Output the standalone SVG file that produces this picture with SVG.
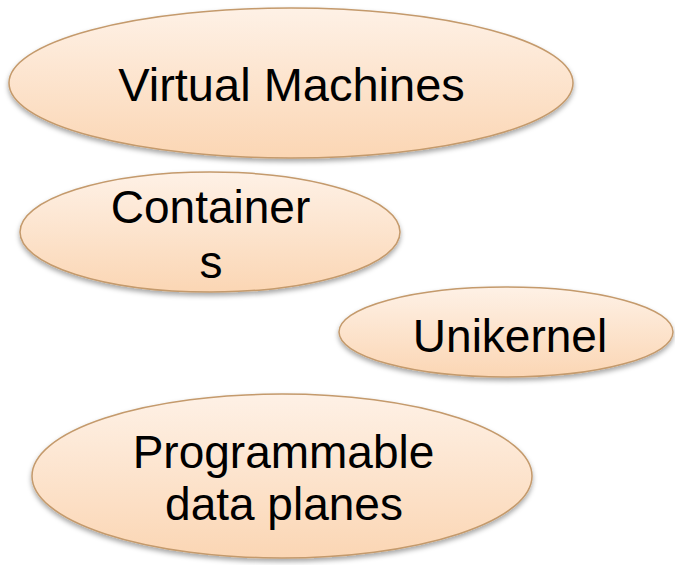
<svg xmlns="http://www.w3.org/2000/svg" width="675" height="565" viewBox="0 0 675 565">
<defs>
<linearGradient id="peach" x1="0" y1="0" x2="0" y2="1">
<stop offset="0" stop-color="#FEF1E6"/>
<stop offset="1" stop-color="#FBD6B4"/>
</linearGradient>
<filter id="shadow" x="-10%" y="-10%" width="120%" height="130%">
<feDropShadow dx="0" dy="3" stdDeviation="2.5" flood-color="#000" flood-opacity="0.35"/>
</filter>
</defs>
<style>
.node ellipse{fill:url(#peach);stroke:#C49A6C;stroke-width:1.5;filter:url(#shadow)}
.node text{font-family:"Liberation Sans",Arial,sans-serif;font-size:46px;fill:#000;text-anchor:middle}
</style>
<rect width="675" height="565" fill="#fff"/>
<g id="connectors"/>
<g id="vm" class="node">
<ellipse cx="291" cy="83" rx="282" ry="75"/>
<text x="291.5" y="101" style="font-size:47px">Virtual Machines</text>
</g>
<g id="containers" class="node">
<ellipse cx="210" cy="232" rx="190" ry="60"/>
<text x="210.5" y="223">Container</text>
<text x="211" y="278">s</text>
</g>
<g id="unikernel" class="node">
<ellipse cx="506" cy="332" rx="167" ry="45"/>
<text x="510" y="352">Unikernel</text>
</g>
<g id="pdp" class="node">
<ellipse cx="282" cy="476" rx="250" ry="82"/>
<text x="283.5" y="468">Programmable</text>
<text x="284" y="520">data planes</text>
</g>
</svg>
